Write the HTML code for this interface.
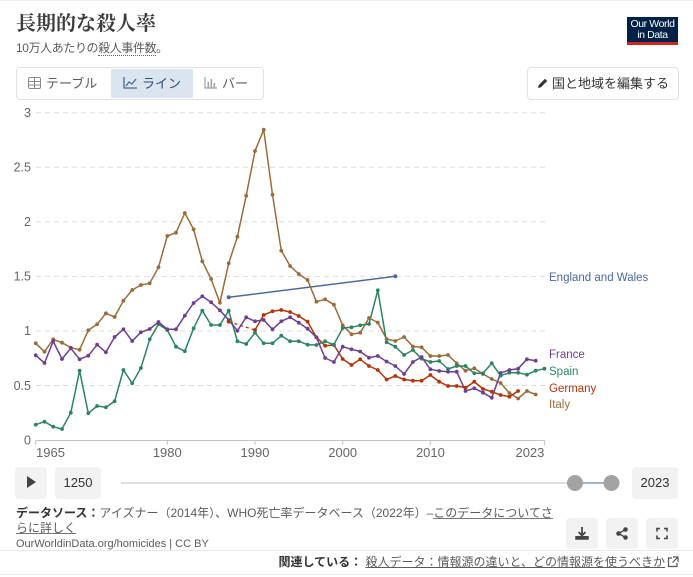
<!DOCTYPE html>
<html><head><meta charset="utf-8">
<style>
html,body{margin:0;padding:0;background:#fff;}
body{width:693px;height:577px;position:relative;overflow:hidden;font-family:"Liberation Sans","Noto Sans CJK JP",sans-serif;color:#5b5b5b;}
.abs{position:absolute;}
.title{left:16px;top:10px;font-family:"Liberation Serif","Noto Serif CJK JP","Noto Serif CJK SC",serif;font-weight:bold;font-size:20px;color:#3d3d3d;white-space:nowrap;line-height:28px;}
.sub{left:16px;top:39px;font-size:12px;letter-spacing:-0.4px;color:#5b5b5b;white-space:nowrap;line-height:18px;}
.sub u{text-decoration:none;border-bottom:1px dotted #666;}
.logo{left:627px;top:17px;width:51px;height:28px;background:#002147;border-bottom:3px solid #ce261e;box-sizing:border-box;color:#fff;font-size:10.5px;line-height:10.5px;text-align:center;padding-top:2px;letter-spacing:-0.4px;}
.tabs{left:16px;top:67px;width:246px;height:31px;border:1px solid #e2e2e2;border-radius:4px;}
.tab{position:absolute;top:0;height:31px;line-height:31px;font-size:13px;color:#5b5b5b;white-space:nowrap;}
.tab.active{background:#dbe5f0;color:#2c4a74;border-radius:2px;top:1px;height:29px;line-height:29px;}
.edit{left:527px;top:67px;width:150px;height:31px;border:1px solid #e2e2e2;border-radius:4px;font-size:13px;line-height:31px;color:#333;white-space:nowrap;}
.btn{background:#f2f2f2;border-radius:4px;height:32px;top:467px;font-size:13px;line-height:32px;text-align:center;color:#333;}
.ibtn{background:#f2f2f2;border-radius:4px;width:32px;height:31px;top:518px;}
.src{left:16px;top:506px;font-size:12px;line-height:15px;color:#5b5b5b;white-space:nowrap;}
.src b{color:#333;}
.src u{text-decoration:underline;text-decoration-color:#777;}
.url{left:16px;top:538px;font-size:11px;color:#5b5b5b;white-space:nowrap;line-height:13px;}
.hr{left:0;width:693px;height:1px;background:#e8e8e8;}
.rel{right:28px;top:555px;font-size:12px;line-height:15px;white-space:nowrap;color:#5b5b5b;}
.rel b{color:#333;}
.rel u{text-decoration:underline;color:#5b5b5b;}
</style></head><body>
<div class="hr abs" style="top:0;background:#efefef;"></div>
<div class="abs title">長期的な殺人率</div>
<div class="abs sub">10万人あたりの<u>殺人事件数</u>。</div>
<div class="abs logo">Our World<br>in Data</div>

<div class="abs tabs">
  <div class="tab" style="left:11px;">
    <svg width="13" height="12" style="vertical-align:-1px;margin-right:5px"><rect x="0.5" y="0.5" width="12" height="11" rx="1.5" fill="none" stroke="#8a8a8a"/><line x1="0.5" y1="4.5" x2="12.5" y2="4.5" stroke="#8a8a8a"/><line x1="0.5" y1="8" x2="12.5" y2="8" stroke="#8a8a8a"/><line x1="6.5" y1="0.5" x2="6.5" y2="11.5" stroke="#8a8a8a"/></svg>テーブル</div>
  <div class="tab active" style="left:94px;width:82px;">
    <svg width="14" height="12" style="vertical-align:-1px;margin:0 5px 0 12px"><polyline points="1,0 1,11 14,11" fill="none" stroke="#4a6a95" stroke-width="1.3"/><polyline points="3,9 6,5 9,7 13,2" fill="none" stroke="#4a6a95" stroke-width="1.3"/></svg>ライン</div>
  <div class="tab" style="left:187px;">
    <svg width="13" height="12" style="vertical-align:-1px;margin-right:5px"><polyline points="1,0 1,11 13,11" fill="none" stroke="#a0a0a0" stroke-width="1.2"/><rect x="3.5" y="5" width="1.6" height="6" fill="#a0a0a0"/><rect x="6.5" y="2" width="1.6" height="9" fill="#a0a0a0"/><rect x="9.5" y="6" width="1.6" height="5" fill="#a0a0a0"/></svg>バー</div>
</div>

<div class="abs edit"><svg width="11" height="12" style="vertical-align:-1px;margin:0 4px 0 9px"><path d="M1,11 L1.8,8 L8,1.8 L10.2,4 L4,10.2 Z" fill="#333"/></svg>国と地域を編集する</div>

<svg class="abs" style="left:0;top:100px" width="693" height="365" viewBox="0 100 693 365" font-family="Liberation Sans, sans-serif">
  <g stroke="#dddddd" stroke-width="1" stroke-dasharray="5,4">
    <line x1="36" y1="112.7" x2="545" y2="112.7"/>
    <line x1="36" y1="167.3" x2="545" y2="167.3"/>
    <line x1="36" y1="221.8" x2="545" y2="221.8"/>
    <line x1="36" y1="276.4" x2="545" y2="276.4"/>
    <line x1="36" y1="330.9" x2="545" y2="330.9"/>
    <line x1="36" y1="385.5" x2="545" y2="385.5"/>
  </g>
  <line x1="35.7" y1="440.5" x2="544.4" y2="440.5" stroke="#c4c4c4" stroke-width="1"/>
  <g stroke="#c4c4c4"><line x1="35.7" y1="440" x2="35.7" y2="445"/><line x1="167.3" y1="440" x2="167.3" y2="445"/><line x1="255" y1="440" x2="255" y2="445"/><line x1="342.7" y1="440" x2="342.7" y2="445"/><line x1="430.4" y1="440" x2="430.4" y2="445"/><line x1="544.4" y1="440" x2="544.4" y2="445"/></g>
  <g fill="#666" font-size="12.5" text-anchor="end">
    <text x="31" y="117">3</text>
    <text x="31" y="171.6">2.5</text>
    <text x="31" y="226.1">2</text>
    <text x="31" y="280.7">1.5</text>
    <text x="31" y="335.2">1</text>
    <text x="31" y="389.8">0.5</text>
    <text x="31" y="444.3">0</text>
  </g>
  <g fill="#666" font-size="13">
    <text x="36" y="457">1965</text>
    <text x="167.3" y="457" text-anchor="middle">1980</text>
    <text x="255" y="457" text-anchor="middle">1990</text>
    <text x="342.7" y="457" text-anchor="middle">2000</text>
    <text x="430.4" y="457" text-anchor="middle">2010</text>
    <text x="544.4" y="457" text-anchor="end">2023</text>
  </g>

  <!-- England and Wales -->
  <g stroke="#4C6A9C" fill="#4C6A9C">
    <line x1="228.7" y1="297.3" x2="395.3" y2="276.3" stroke-width="1.5"/>
    <circle cx="228.7" cy="297.3" r="2" stroke="none"/><circle cx="395.3" cy="276.3" r="2" stroke="none"/>
  </g>

  <!-- Italy -->
  <g id="it">
  <polyline fill="none" stroke="#996D39" stroke-width="1.5" stroke-linejoin="round" points="35.7,343.3 44.5,351.7 53.2,339.3 62,342.7 70.8,347.7 79.6,349.7 88.3,330.3 97.1,324.3 105.9,313.3 114.6,317 123.4,300.7 132.2,290 140.9,285 149.7,283.3 158.5,267.3 167.3,236 176,232.7 184.8,213 193.6,229.3 202.3,261.3 211.1,279 219.9,302.7 228.7,263.3 237.4,236.7 246.2,195.7 255,151 263.7,129.7 272.5,194.7 281.3,250.7 290.1,266 298.8,274 307.6,280 316.4,301.7 325.1,299.3 333.9,304.7 342.7,325.3 351.5,334.3 360.2,332.7 369,318 377.8,322.5 386.6,339 395.3,341 404.1,337 412.9,346.5 421.6,347.3 430.4,356 439.2,356 448,355 456.7,363.3 465.5,370.7 474.3,368.3 483,374 491.8,379 500.6,383 509.4,393 518.1,398.5 526.9,391 535.7,394.5"/>
  </g>

  <!-- Germany -->
  <line x1="228.7" y1="321.7" x2="255" y2="330" stroke="#B13507" stroke-width="1.3" stroke-dasharray="3,3"/>
  <polyline fill="none" stroke="#B13507" stroke-width="1.5" stroke-linejoin="round" points="255,330 263.7,315 272.5,311.3 281.3,310 290.1,312 298.8,316 307.6,321.7 316.4,337.3 325.1,345.7 333.9,345 342.7,359 351.5,365 360.2,359.3 369,366 377.8,370 386.6,379.5 395.3,376 404.1,379.5 412.9,380.7 421.6,380.7 430.4,375 439.2,381.7 448,386 456.7,386 465.5,387.7 474.3,381.7 483,389 491.8,391.7 500.6,395 509.4,396.7 518.1,391"/>

  <!-- Spain -->
  <polyline fill="none" stroke="#2C8465" stroke-width="1.5" stroke-linejoin="round" points="35.7,424.7 44.5,421.7 53.2,426.7 62,429 70.8,412.7 79.6,370.7 88.3,413.3 97.1,406 105.9,407.3 114.6,401.3 123.4,370 132.2,383.3 140.9,368 149.7,339.3 158.5,324.3 167.3,330 176,346.7 184.8,351.3 193.6,328.3 202.3,310.7 211.1,325 219.9,325 228.7,310.7 237.4,341.3 246.2,344 255,332.7 263.7,343.3 272.5,343.3 281.3,335.7 290.1,341.3 298.8,341.3 307.6,344.7 316.4,345 325.1,341.3 333.9,344.7 342.7,328 351.5,327.3 360.2,325.3 369,324 377.8,290.3 386.6,342.3 395.3,346.7 404.1,355 412.9,350 421.6,358.7 430.4,362 439.2,361 448,369 456.7,366 465.5,366 474.3,373.3 483,373.3 491.8,363.3 500.6,375.7 509.4,372.7 518.1,372.7 526.9,374.7 535.7,370.7 544.4,368.7"/>

  <!-- France -->
  <polyline fill="none" stroke="#6D3E91" stroke-width="1.5" stroke-linejoin="round" points="35.7,355.3 44.5,363 53.2,341.3 62,359 70.8,348.3 79.6,359.3 88.3,355.7 97.1,344.7 105.9,352.3 114.6,337 123.4,329.3 132.2,341 140.9,332.3 149.7,329 158.5,322 167.3,329.3 176,329.3 184.8,315.7 193.6,303 202.3,296.3 211.1,302.3 219.9,310.3 228.7,320 237.4,330.7 246.2,317.3 255,321.3 263.7,320 272.5,329.3 281.3,321.3 290.1,317.3 298.8,322.7 307.6,328.7 316.4,337.3 325.1,358 333.9,362 342.7,346.7 351.5,349.3 360.2,351.5 369,357.7 377.8,356 386.6,361.5 395.3,366 404.1,374 412.9,362 421.6,357 430.4,369.3 439.2,371 448,371.7 456.7,371.7 465.5,391 474.3,388.3 483,392.7 491.8,397.8 500.6,373 509.4,370 518.1,368.7 526.9,359.3 535.7,360.7"/>

  <g id="markers"></g>

  <g font-size="11.5">
    <text x="549" y="281" fill="#4C6A9C">England and Wales</text>
    <text x="549" y="358" fill="#6D3E91">France</text>
    <text x="549" y="375" fill="#2C8465">Spain</text>
    <text x="549" y="392" fill="#B13507">Germany</text>
    <text x="549" y="408" fill="#996D39">Italy</text>
  </g>
</svg>

<div class="abs btn" style="left:15px;width:32px;"><svg width="10" height="12" style="vertical-align:-1px"><polygon points="1,0 10,6 1,12" fill="#444"/></svg></div>
<div class="abs btn" style="left:55px;width:46px;">1250</div>
<svg class="abs" style="left:110px;top:470px" width="520" height="26">
  <line x1="11" y1="13" x2="465" y2="13" stroke="#dedede" stroke-width="2"/>
  <line x1="465" y1="13" x2="501" y2="13" stroke="#a3b5cc" stroke-width="2"/>
  <circle cx="465" cy="13" r="8" fill="#a3a3a3"/>
  <circle cx="501.5" cy="13" r="8" fill="#a3a3a3"/>
</svg>
<div class="abs btn" style="left:632px;width:46px;">2023</div>

<div class="abs src"><b>データソース：</b>アイズナー（2014年）、WHO死亡率データベース（2022年）–<u>このデータについてさ</u><br><u>らに詳しく</u></div>
<div class="abs url">OurWorldinData.org/homicides | CC BY</div>

<div class="abs ibtn" style="left:566px;"><svg width="32" height="31"><path d="M16,9 L16,17 M12.5,14 L16,17.5 L19.5,14" fill="none" stroke="#444" stroke-width="1.8"/><path d="M10,18 L10,21 L22,21 L22,18" fill="#444" stroke="#444" stroke-width="1.5"/></svg></div>
<div class="abs ibtn" style="left:606px;"><svg width="32" height="31"><circle cx="19.5" cy="11.5" r="2.3" fill="#444"/><circle cx="12.5" cy="15.5" r="2.3" fill="#444"/><circle cx="19.5" cy="19.5" r="2.3" fill="#444"/><path d="M19.5,11.5 L12.5,15.5 L19.5,19.5" fill="none" stroke="#444" stroke-width="1.3"/></svg></div>
<div class="abs ibtn" style="left:646px;"><svg width="32" height="31"><path d="M11,13.5 L11,10.5 L14,10.5 M18,10.5 L21,10.5 L21,13.5 M21,17.5 L21,20.5 L18,20.5 M14,20.5 L11,20.5 L11,17.5" fill="none" stroke="#444" stroke-width="1.6"/></svg></div>

<div class="abs hr" style="top:550px;"></div>
<div class="abs rel"><b>関連している：</b> <u>殺人データ：情報源の違いと、どの情報源を使うべきか</u></div>
<svg class="abs" style="left:667px;top:556px" width="12" height="12"><path d="M5,2 L1.5,2 L1.5,10.5 L10,10.5 L10,7" fill="none" stroke="#555" stroke-width="1.2"/><path d="M6,1 L11,1 L11,6 M11,1 L5.5,6.5" fill="none" stroke="#555" stroke-width="1.2"/></svg>
<div class="abs hr" style="top:574px;"></div>

<script>
(function(){
  var g=document.getElementById('markers');
  var ns='http://www.w3.org/2000/svg';
  var pls=document.querySelectorAll('svg polyline');
  pls.forEach(function(pl){
    var c=pl.getAttribute('stroke');
    if(c==='#444'||c==='#a0a0a0'||c==='#4a6a95'||pl.getAttribute('fill')!=='none') return;
    var pts=pl.getAttribute('points').trim().split(/\s+/);
    pts.forEach(function(p){
      var xy=p.split(',');
      var ci=document.createElementNS(ns,'circle');
      ci.setAttribute('cx',xy[0]);ci.setAttribute('cy',xy[1]);ci.setAttribute('r','1.9');ci.setAttribute('fill',c);
      g.appendChild(ci);
    });
  });
  var ci=document.createElementNS(ns,'circle');
  ci.setAttribute('cx','228.7');ci.setAttribute('cy','321.7');ci.setAttribute('r','1.9');ci.setAttribute('fill','#B13507');
  g.appendChild(ci);
})();
</script>
</body></html>
